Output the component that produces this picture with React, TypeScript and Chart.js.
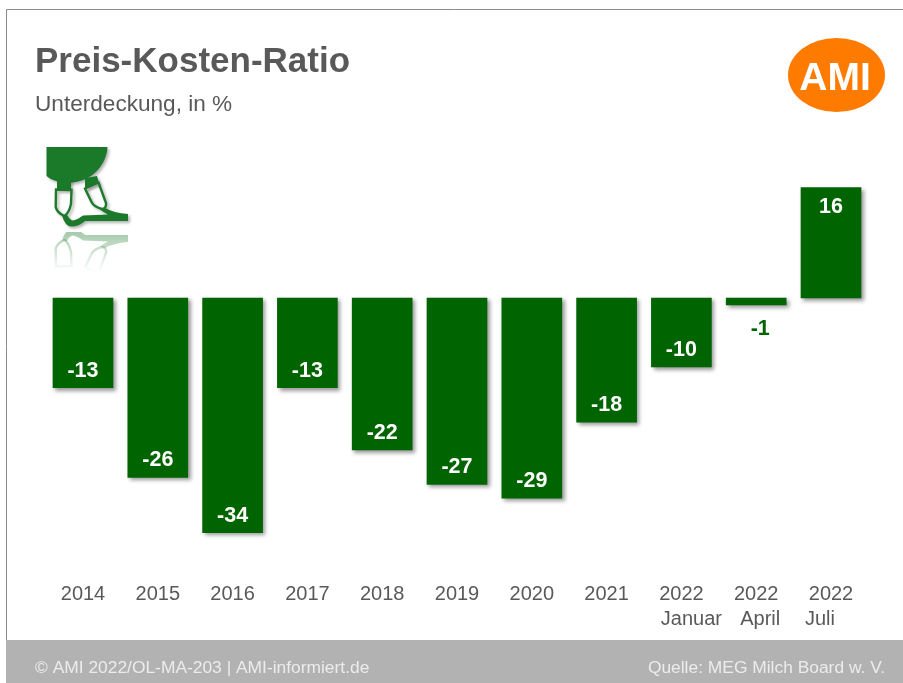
import React, { useEffect, useRef } from "react";
import { Chart, registerables } from "chart.js";

Chart.register(...registerables);

const years = ["2014", "2015", "2016", "2017", "2018", "2019", "2020", "2021", "2022", "2022", "2022"];
const months = ["", "", "", "", "", "", "", "", "Januar", "April", "Juli"];
const ratio = [-13, -26, -34, -13, -22, -27, -29, -18, -10, -1, 16];

const BAR = "#006400";
const TEXT = "#595959";
const ICON = "#1b7a2a";
const FONT = '"Liberation Sans", Arial, sans-serif';

// Bowl of the milking cluster with its two short stems
function drawBowl(ctx: CanvasRenderingContext2D) {
  ctx.beginPath();
  ctx.moveTo(46.5, 147);
  ctx.lineTo(107.5, 147);
  ctx.bezierCurveTo(107, 160, 98, 176, 80, 181);
  ctx.bezierCurveTo(70, 184, 54, 183, 46.5, 176);
  ctx.closePath();
  ctx.fill();
  ctx.fillRect(57, 180, 14, 9);
  ctx.beginPath();
  ctx.moveTo(85, 178);
  ctx.lineTo(97, 176);
  ctx.lineTo(99, 183);
  ctx.lineTo(85, 189);
  ctx.closePath();
  ctx.fill();
}

// Teat cups and the hose that joins them
function drawHoses(ctx: CanvasRenderingContext2D) {
  ctx.lineWidth = 2.4;
  ctx.beginPath();
  ctx.moveTo(56, 189.5);
  ctx.lineTo(71.5, 190);
  ctx.lineTo(71, 204);
  ctx.quadraticCurveTo(69, 213, 64.5, 216);
  ctx.quadraticCurveTo(57, 213, 55.7, 207);
  ctx.closePath();
  ctx.stroke();
  ctx.beginPath();
  ctx.moveTo(85, 188.5);
  ctx.lineTo(98.5, 182.5);
  ctx.lineTo(106, 203);
  ctx.quadraticCurveTo(106.5, 209, 102, 209);
  ctx.quadraticCurveTo(94, 207, 91.5, 202);
  ctx.closePath();
  ctx.stroke();
  ctx.beginPath();
  ctx.moveTo(62, 215.5);
  ctx.quadraticCurveTo(65, 226, 71, 226.5);
  ctx.quadraticCurveTo(79, 226.5, 85, 221);
  ctx.lineTo(128, 221);
  ctx.lineTo(128, 214);
  ctx.quadraticCurveTo(114, 213, 104, 207.5);
  ctx.lineTo(100, 209.5);
  ctx.quadraticCurveTo(104, 212.5, 108, 214.5);
  ctx.lineTo(83, 215.5);
  ctx.quadraticCurveTo(76, 220.5, 72, 220.5);
  ctx.quadraticCurveTo(69, 219, 67, 215);
  ctx.closePath();
  ctx.fill();
}

const frame = {
  id: "frame",
  beforeDraw(chart: Chart) {
    const { ctx, width, height } = chart;
    ctx.save();
    ctx.fillStyle = "#ffffff";
    ctx.fillRect(0, 0, width, height);
    ctx.strokeStyle = "#8c8c8c";
    ctx.lineWidth = 1;
    ctx.beginPath();
    ctx.moveTo(6.5, height);
    ctx.lineTo(6.5, 9.5);
    ctx.lineTo(width, 9.5);
    ctx.stroke();
    ctx.fillStyle = "#b2b2b2";
    ctx.fillRect(6, 640, width - 6, height - 640);

    ctx.textBaseline = "alphabetic";
    ctx.fillStyle = TEXT;
    ctx.font = `bold 35px ${FONT}`;
    ctx.fillText("Preis-Kosten-Ratio", 35, 72);
    ctx.font = `22.6px ${FONT}`;
    ctx.fillText("Unterdeckung, in %", 35, 111);

    ctx.fillStyle = "#ececec";
    ctx.font = `17.4px ${FONT}`;
    ctx.fillText("© AMI 2022/OL-MA-203 | AMI-informiert.de", 35, 673);
    ctx.textAlign = "right";
    ctx.fillText("Quelle: MEG Milch Board w. V.", 885, 673);

    ctx.textAlign = "center";
    ctx.fillStyle = "#ff7b00";
    ctx.beginPath();
    ctx.ellipse(836.5, 75, 48.5, 37, 0, 0, Math.PI * 2);
    ctx.fill();
    ctx.fillStyle = "#ffffff";
    ctx.font = `bold 39px ${FONT}`;
    ctx.fillText("AMI", 835, 90);

    // Milking cluster with a fading reflection underneath
    ctx.save();
    ctx.shadowColor = "rgba(0,0,0,0.3)";
    ctx.shadowBlur = 3;
    ctx.shadowOffsetX = 2;
    ctx.shadowOffsetY = 2;
    ctx.fillStyle = ICON;
    ctx.strokeStyle = ICON;
    drawBowl(ctx);
    drawHoses(ctx);
    ctx.restore();
    ctx.save();
    ctx.beginPath();
    ctx.rect(40, 232, 95, 42);
    ctx.clip();
    ctx.translate(0, 456);
    ctx.scale(1, -1);
    ctx.globalAlpha = 0.4;
    ctx.strokeStyle = ICON;
    ctx.fillStyle = ICON;
    drawHoses(ctx);
    ctx.restore();
    const fade = ctx.createLinearGradient(0, 232, 0, 272);
    fade.addColorStop(0, "rgba(255,255,255,0)");
    fade.addColorStop(1, "rgba(255,255,255,1)");
    ctx.fillStyle = fade;
    ctx.fillRect(40, 232, 95, 42);
    ctx.restore();
  },
};

const barShadow = {
  id: "barShadow",
  beforeDatasetsDraw(chart: Chart) {
    const { ctx } = chart;
    ctx.save();
    ctx.shadowColor = "rgba(0,0,0,0.4)";
    ctx.shadowBlur = 4;
    ctx.shadowOffsetX = 2.5;
    ctx.shadowOffsetY = 2.5;
  },
  afterDatasetsDraw(chart: Chart) {
    chart.ctx.restore();
  },
};

const monthOffsets = [0, 0, 0, 0, 0, 0, 0, 0, 10, 4, -11];

// Values inside the bars, plus the second row of the category axis
const annotations = {
  id: "annotations",
  afterDraw(chart: Chart) {
    const { ctx, scales } = chart;
    const meta = chart.getDatasetMeta(0);
    ctx.save();
    ctx.textAlign = "center";
    ctx.textBaseline = "middle";
    ctx.font = `bold 21.5px ${FONT}`;
    ratio.forEach((v, i) => {
      const x = meta.data[i].x;
      if (v === -1) {
        ctx.fillStyle = BAR;
        ctx.fillText(String(v), x + 4, scales.y.getPixelForValue(v) + 24);
      } else {
        ctx.fillStyle = "#ffffff";
        const base = scales.y.getPixelForValue(v);
        ctx.fillText(String(v), x, v < 0 ? base - 17 : base + 19);
      }
    });
    ctx.fillStyle = TEXT;
    ctx.font = `20px ${FONT}`;
    months.forEach((m, i) => {
      if (m) ctx.fillText(m, scales.x.getPixelForTick(i) + monthOffsets[i], 619);
    });
    ctx.restore();
  },
};

export default function App() {
  const ref = useRef<HTMLCanvasElement>(null);
  useEffect(() => {
    if (!ref.current) return;
    const chart = new Chart(ref.current, {
      type: "bar",
      data: {
        labels: years,
        datasets: [
          {
            data: ratio,
            backgroundColor: BAR,
            barThickness: 60,
          },
        ],
      },
      options: {
        animation: false,
        responsive: false,
        layout: { padding: { left: 45.6, right: 34.6, top: 160, bottom: 0 } },
        plugins: { legend: { display: false }, tooltip: { enabled: false } },
        scales: {
          x: {
            grid: { display: false },
            border: { display: false },
            ticks: {
              color: TEXT,
              font: { family: FONT, size: 20 },
              padding: 0,
              maxRotation: 0,
              autoSkip: false,
            },
            afterFit(axis: any) {
              axis.height = 109;
            },
          },
          y: { display: false, min: -40, max: 20 },
        },
      },
      plugins: [frame, barShadow, annotations],
    });
    return () => chart.destroy();
  }, []);
  return (
    <canvas
      ref={ref}
      width={903}
      height={683}
      style={{ position: "absolute", left: 0, top: 0, display: "block" }}
    />
  );
}
